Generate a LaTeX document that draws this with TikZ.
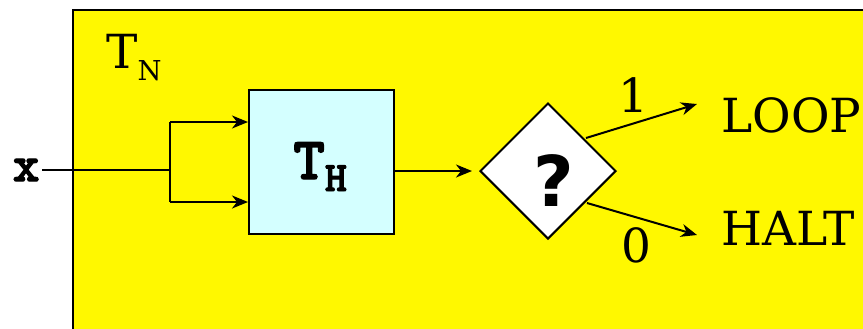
\documentclass[tikz,border=0pt]{standalone}
\usepackage{fontspec}
\setmainfont{DejaVu Serif}
\newfontfamily\qfont{DejaVu Sans}
\IfFontExistsTF{lmmonolt10-bold.otf}
  {\newfontfamily\slab{lmmonolt10-bold.otf}[FakeBold=2.2]}
  {\newfontfamily\slab{DejaVu Serif Bold}}
\usetikzlibrary{arrows.meta,shapes.geometric}
\definecolor{bgyellow}{RGB}{255,248,0}
\definecolor{boxcyan}{RGB}{212,255,255}
\tikzset{
  conn/.style={line width=1pt},
  arr/.style={conn,-{Stealth[length=8pt,width=6.5pt,inset=2.5pt]}},
  bigtext/.style={font=\fontsize{23.5}{24}\selectfont, inner sep=0pt},
}
\begin{document}
\begin{tikzpicture}[x=0.5pt,y=-0.5pt]
\useasboundingbox (0,0) rectangle (863,328);
\clip (0,0) rectangle (863,328);
\draw[fill=bgyellow, line width=1pt] (73,10) rectangle (880,345);
\node[bigtext, anchor=base west] (tn) at (106,68) {T\raisebox{-6pt}{\fontsize{13.7}{14}\selectfont N}};
\node[draw, fill=boxcyan, line width=1pt, minimum width=72.5pt, minimum height=72pt, inner sep=0pt] (th) at (321.5,162) {};
\node[inner sep=0pt, anchor=base west] (thl) at (293,179) {\slab\fontsize{30}{30}\selectfont T\raisebox{-6pt}{\fontsize{21}{21}\selectfont H}};
\node[draw, fill=white, line width=1pt, shape=diamond, aspect=1, minimum width=68pt, minimum height=68pt, inner sep=0pt] (dia) at (548,171) {};
\node[inner sep=0pt] (q) at (554,181) {\qfont\bfseries\fontsize{35}{35}\selectfont ?};
\node[inner sep=1pt, anchor=east] (x) at (42,170) {\slab\fontsize{25.5}{26}\selectfont x};
\coordinate (s) at (170,170);
\coordinate (s1) at (170,122);
\coordinate (s2) at (170,202);
\draw[conn] (x.east) -- (s);
\draw[conn] (s1) -- (s2);
\draw[arr] (s1) -- (th.west |- s1);
\draw[arr] (s2) -- (th.west |- s2);
\draw[arr, shorten >=3.5pt] (th.east |- dia.west) -- (dia.west);
\coordinate (le) at (697,104);
\coordinate (he) at (697,235);
\draw[arr] (586,138) -- (le);
\draw[arr] (587,203) -- (he);
\node[bigtext] (one) at (633,95) {1};
\node[bigtext] (zero) at (636,245) {0};
\node[bigtext, anchor=base west] (loop) at (721,132) {LOOP};
\node[bigtext, anchor=base west] (halt) at (721,245) {HALT};
\end{tikzpicture}
\end{document}
